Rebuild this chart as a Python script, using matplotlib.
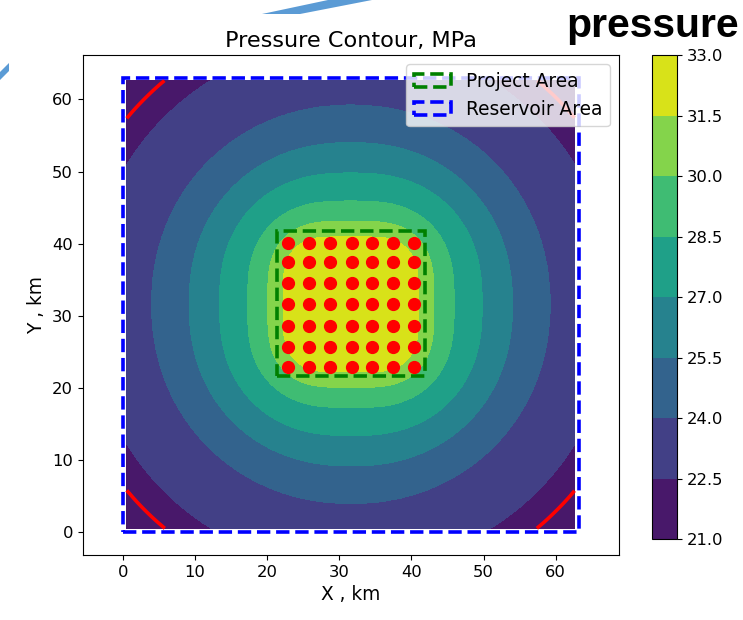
import numpy as np
import matplotlib
matplotlib.use("Agg")
import matplotlib.pyplot as plt
from matplotlib.patches import Rectangle, Polygon

# ---------------- data ----------------
well_x = [22.9, 25.8, 28.7, 31.7, 34.6, 37.5, 40.4]
well_y = [22.9, 25.7, 28.6, 31.6, 34.5, 37.4, 40.1]

project_x = [21.3, 41.9]
project_y = [21.6, 41.7]
reservoir_x = [0.0, 63.2]
reservoir_y = [0.0, 63.0]
grid_extent = [0.55, 62.6]
field_center = [31.6, 31.6]

prof_r = [0.0, 5.0, 9.4, 11.5, 14.3, 18.2, 22.4, 27.6, 36.5, 40.3, 44.0]
prof_p = [32.9, 32.4, 31.5, 30.0, 28.5, 27.0, 25.5, 24.0, 22.5, 22.0, 21.6]

levels = [21.0, 22.5, 24.0, 25.5, 27.0, 28.5, 30.0, 31.5, 33.0]
red_level = [22.0]
xticks = [0, 10, 20, 30, 40, 50, 60]
yticks = [0, 10, 20, 30, 40, 50, 60]

# ---------------- figure ----------------
S = 1.34
plt.rcParams['font.size'] = 10 * S

fig = plt.figure(figsize=(7.43, 6.2), dpi=100)
ax = fig.add_axes([0.1113, 0.1048, 0.7218, 0.8065])
cax = fig.add_axes([0.878, 0.1306, 0.0336, 0.7806])

gx = np.linspace(grid_extent[0], grid_extent[1], 300)
gy = np.linspace(grid_extent[0], grid_extent[1], 300)
X, Y = np.meshgrid(gx, gy)
dx = np.abs(X - field_center[0]) + 1e-9
dy = np.abs(Y - field_center[1]) + 1e-9
# shape of iso-lines: squarish near the well pattern, circular further out
pnorm = 2.0 + 12.0 * np.exp(-np.hypot(dx, dy) / 5.5)
r_eff = (dx ** pnorm + dy ** pnorm) ** (1.0 / pnorm)
P = np.interp(r_eff, prof_r, prof_p)

cf = ax.contourf(X, Y, P, levels=levels, cmap='viridis')
ax.contour(X, Y, P, levels=red_level, colors='red', linewidths=2.6)

ax.plot(np.repeat(well_x, len(well_y)), np.tile(well_y, len(well_x)), 'o',
        color='red', markersize=8.5, linestyle='none')

proj = Rectangle((project_x[0], project_y[0]), project_x[1] - project_x[0],
                 project_y[1] - project_y[0], fill=False, edgecolor='green',
                 linestyle='--', linewidth=2.6, label='Project Area')
res = Rectangle((reservoir_x[0], reservoir_y[0]), reservoir_x[1] - reservoir_x[0],
                reservoir_y[1] - reservoir_y[0], fill=False, edgecolor='blue',
                linestyle='--', linewidth=2.6, label='Reservoir Area')
ax.add_patch(proj)
ax.add_patch(res)

ax.set_aspect('equal', adjustable='datalim')
ax.autoscale_view()
ax.set_xticks(xticks)
ax.set_yticks(yticks)
ax.tick_params(labelsize=11.8)
ax.set_xlabel('X , km')
ax.set_ylabel('Y , km')
ax.set_title('Pressure Contour, MPa', fontsize=12 * S)
ax.legend(loc='upper right')

cb = fig.colorbar(cf, cax=cax)
cb.set_ticks(levels)
cb.set_ticklabels([f"{v:.1f}" for v in levels])
cb.ax.tick_params(labelsize=11.8)

# decorations from the slide
fig.text(566 / 743, 0.940, 'pressure', fontsize=29.5, fontweight='bold',
         family=['Liberation Sans', 'DejaVu Sans'], ha='left', va='baseline')
W, H = 743.0, 620.0
def px(pts):
    return [(x / W, 1 - y / H) for x, y in pts]
fig.add_artist(Polygon(px([(262, 14), (300, 14), (372, 0), (328, 0)]),
                       closed=True, transform=fig.transFigure, color='#5b9bd5', lw=0))
fig.add_artist(Polygon(px([(0, 72), (9, 63), (9, 71), (0, 80)]),
                       closed=True, transform=fig.transFigure, color='#5b9bd5', lw=0))

fig.savefig('out.png', dpi=100)
